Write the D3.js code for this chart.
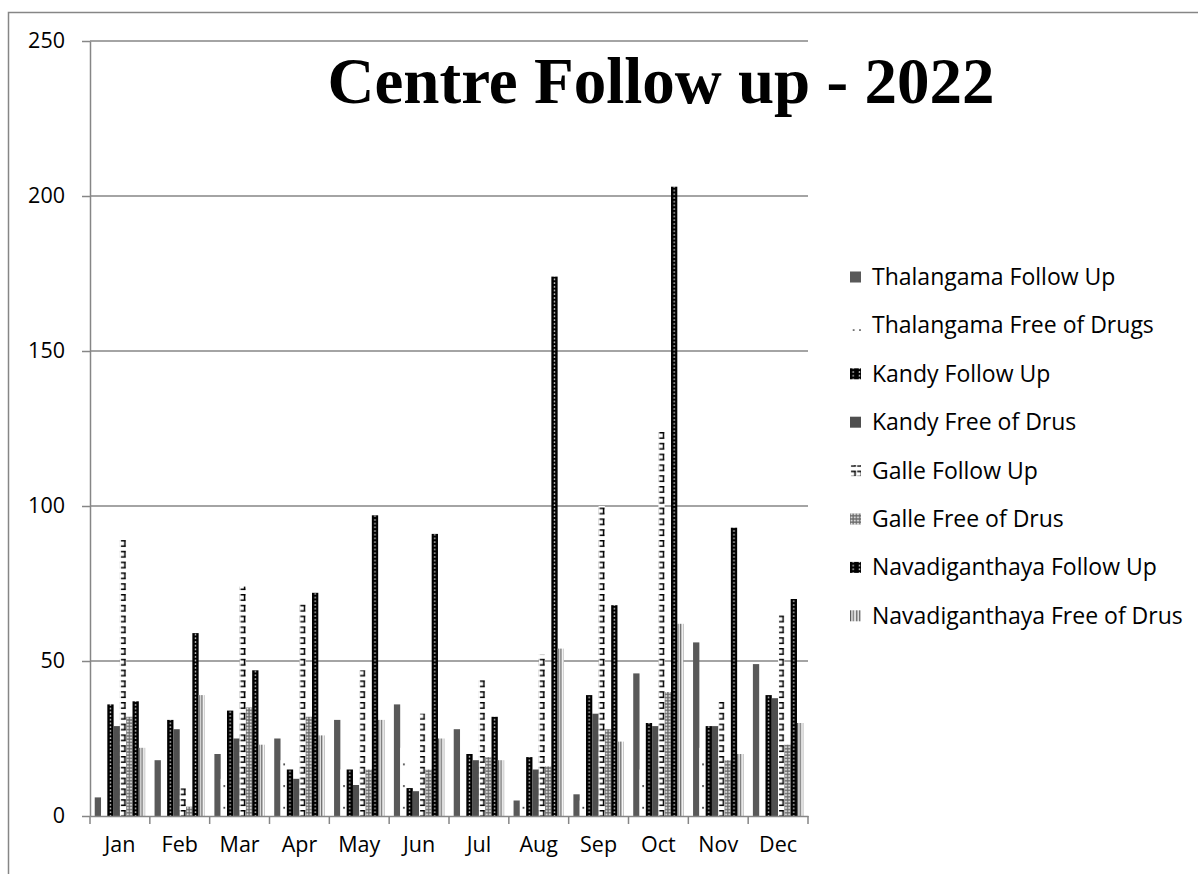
<!DOCTYPE html>
<meta charset="utf-8">
<style>
    body {
        margin: 0;
        padding: 0;
        background: #fff;
    }
    .axis text {
        font-family: "Open Sans", sans-serif;
        font-size: 21.5px;
        fill: #000;
    }
    .axis path, .axis line {
        stroke: #868686;
        stroke-width: 1.5;
    }
    .legend text {
        font-family: "Open Sans", sans-serif;
        font-size: 23px;
        fill: #000;
    }
</style>
<body>
<script src="https://d3js.org/d3.v7.min.js"></script>
<script>
    var months = ["Jan", "Feb", "Mar", "Apr", "May", "Jun", "Jul", "Aug", "Sep", "Oct", "Nov", "Dec"];
    var seriesNames = ["Thalangama Follow Up", "Thalangama Free of Drugs", "Kandy Follow Up", "Kandy Free of Drus",
        "Galle Follow Up", "Galle Free of Drus", "Navadiganthaya Follow Up", "Navadiganthaya Free of Drus"];

    var thalangamaFollowUp = [6, 18, 20, 25, 31, 36, 28, 5, 7, 46, 56, 49];
    var thalangamaFree = [1, 0, 12, 18, 15, 22, 0, 5, 5, 15, 22, 0];
    var kandyFollowUp = [36, 31, 34, 15, 15, 9, 20, 19, 39, 30, 29, 39];
    var kandyFree = [29, 28, 25, 12, 10, 8, 18, 15, 33, 29, 29, 38];
    var galleFollowUp = [89, 9, 74, 69, 47, 33, 44, 52, 100, 124, 37, 65];
    var galleFree = [32, 3, 35, 32, 15, 15, 19, 16, 28, 40, 18, 23];
    var navFollowUp = [37, 59, 47, 72, 97, 91, 32, 174, 68, 203, 93, 70];
    var navFree = [22, 39, 23, 26, 31, 25, 18, 54, 24, 62, 20, 30];

    var yTicks = [0, 50, 100, 150, 200, 250];

    var values = [thalangamaFollowUp, thalangamaFree, kandyFollowUp, kandyFree,
        galleFollowUp, galleFree, navFollowUp, navFree];

    var width = 1198,
        height = 874,
        plot = {left: 90, right: 808, top: 41, bottom: 816};

    var svg = d3.select("body")
        .append("svg")
        .attr("width", width)
        .attr("height", height);

    var x0 = d3.scaleBand()
        .domain(months)
        .range([plot.left, plot.right])
        .padding(0);

    var x1 = d3.scaleBand()
        .domain(seriesNames)
        .range([0, x0.bandwidth()])
        .paddingInner(0)
        .paddingOuter(0.75);

    var y = d3.scaleLinear()
        .domain([0, 250])
        .range([plot.bottom, plot.top]);

    var bw = x1.bandwidth();

    // fill patterns, tiles start at the left edge of every bar
    var defs = svg.append("defs");

    function pattern(id, w, h) {
        return defs.append("pattern")
            .attr("id", id)
            .attr("patternUnits", "userSpaceOnUse")
            .attr("width", w)
            .attr("height", h);
    }

    var p = pattern("thalFree", bw, 21.7);
    p.append("rect").attr("width", bw).attr("height", 21.7).attr("fill", "#fff");
    p.append("rect").attr("x", bw * 0.45).attr("y", 4).attr("width", 1.7).attr("height", 1.7).attr("fill", "#333");

    ["kandyFU", "navFU"].forEach(function(id) {
        var q = pattern(id, bw, 3.7);
        q.append("rect").attr("width", bw).attr("height", 3.7).attr("fill", "#000");
        q.append("circle").attr("cx", bw / 2).attr("cy", 1.85).attr("r", 0.8).attr("fill", "#fff");
    });

    p = pattern("galleFU", bw, 10.8);
    p.append("rect").attr("width", bw).attr("height", 10.8).attr("fill", "#fff");
    p.append("rect").attr("x", 1).attr("y", 0).attr("width", bw - 1.5).attr("height", 1.5).attr("fill", "#000");
    p.append("rect").attr("x", bw - 2).attr("y", 0).attr("width", 1.5).attr("height", 6.9).attr("fill", "#000");
    p.append("rect").attr("x", 1).attr("y", 5.4).attr("width", bw - 1.5).attr("height", 1.5).attr("fill", "#000");

    p = pattern("galleFree", 3.2, 3.2);
    p.append("rect").attr("width", 3.2).attr("height", 3.2).attr("fill", "#6e6e6e");
    p.append("circle").attr("cx", 1.6).attr("cy", 1.6).attr("r", 1.05).attr("fill", "#fff");
    p.append("circle").attr("cx", 1.6).attr("cy", 1.6).attr("r", 0.45).attr("fill", "#444");

    p = pattern("navFree", bw, 4);
    p.append("rect").attr("width", bw).attr("height", 4).attr("fill", "#d0d0d0");
    p.append("rect").attr("x", 0).attr("width", 1.4).attr("height", 4).attr("fill", "#555");
    p.append("rect").attr("x", 1.4).attr("width", 1).attr("height", 4).attr("fill", "#fff");
    p.append("rect").attr("x", 2.6).attr("width", 1.4).attr("height", 4).attr("fill", "#707070");
    p.append("rect").attr("x", 4.3).attr("width", 1).attr("height", 4).attr("fill", "#fff");

    var fills = ["#595959", "url(#thalFree)", "url(#kandyFU)", "#4f4f4f",
        "url(#galleFU)", "url(#galleFree)", "url(#navFU)", "url(#navFree)"];

    // outer chart frame
    svg.append("rect")
        .attr("x", 8.5)
        .attr("y", 12.5)
        .attr("width", 1300)
        .attr("height", 1000)
        .attr("fill", "none")
        .attr("stroke", "#868686")
        .attr("stroke-width", 1.5);

    // gridlines
    svg.append("g")
        .selectAll("line")
        .data(yTicks.slice(1))
        .enter().append("line")
        .attr("x1", plot.left)
        .attr("x2", plot.right)
        .attr("y1", function(d) { return y(d); })
        .attr("y2", function(d) { return y(d); })
        .attr("stroke", "#868686")
        .attr("stroke-width", 1.5);

    // bars
    var groups = svg.append("g")
        .selectAll("g")
        .data(months)
        .enter().append("g")
        .attr("transform", function(d) { return "translate(" + x0(d) + ",0)"; });

    groups.selectAll("g")
        .data(function(m, i) {
            return seriesNames.map(function(s, k) { return {series: s, k: k, value: values[k][i]}; });
        })
        .enter().append("g")
        .attr("transform", function(d) { return "translate(" + x1(d.series) + ",0)"; })
        .append("rect")
        .attr("x", 0)
        .attr("y", function(d) { return y(d.value); })
        .attr("width", bw)
        .attr("height", function(d) { return y(0) - y(d.value); })
        .attr("fill", function(d) { return fills[d.k]; });

    // y axis
    svg.append("g")
        .attr("class", "axis")
        .attr("transform", "translate(" + plot.left + ",0)")
        .call(d3.axisLeft(y).tickValues(yTicks).tickSize(8).tickPadding(17).tickSizeOuter(0));

    // x axis, ticks sit between the months
    var xAxis = svg.append("g")
        .attr("class", "axis")
        .attr("transform", "translate(0," + plot.bottom + ")")
        .call(d3.axisBottom(x0).tickSize(0).tickPadding(21).tickSizeOuter(0));

    xAxis.selectAll(".sep")
        .data(months.map(function(m) { return x0(m); }).concat([plot.right]))
        .enter().append("line")
        .attr("class", "sep")
        .attr("x1", function(d) { return d; })
        .attr("x2", function(d) { return d; })
        .attr("y1", 0)
        .attr("y2", 8);

    // title
    svg.append("text")
        .attr("x", 661)
        .attr("y", 103)
        .attr("text-anchor", "middle")
        .style("font-family", "'Liberation Serif', 'Times New Roman', serif")
        .style("font-weight", "bold")
        .style("font-size", "65px")
        .text("Centre Follow up - 2022");

    // legend
    var legend = svg.append("g")
        .attr("class", "legend")
        .selectAll("g")
        .data(seriesNames)
        .enter().append("g")
        .attr("transform", function(d, i) { return "translate(850," + (277 + i * 48.4) + ")"; });

    legend.append("rect")
        .attr("x", 0)
        .attr("y", -5.5)
        .attr("width", 11)
        .attr("height", 11)
        .attr("fill", function(d, i) { return fills[i]; });

    legend.append("text")
        .attr("x", 22)
        .attr("y", 0)
        .attr("dy", "0.35em")
        .text(function(d) { return d; });
</script>
</body>
</html>
